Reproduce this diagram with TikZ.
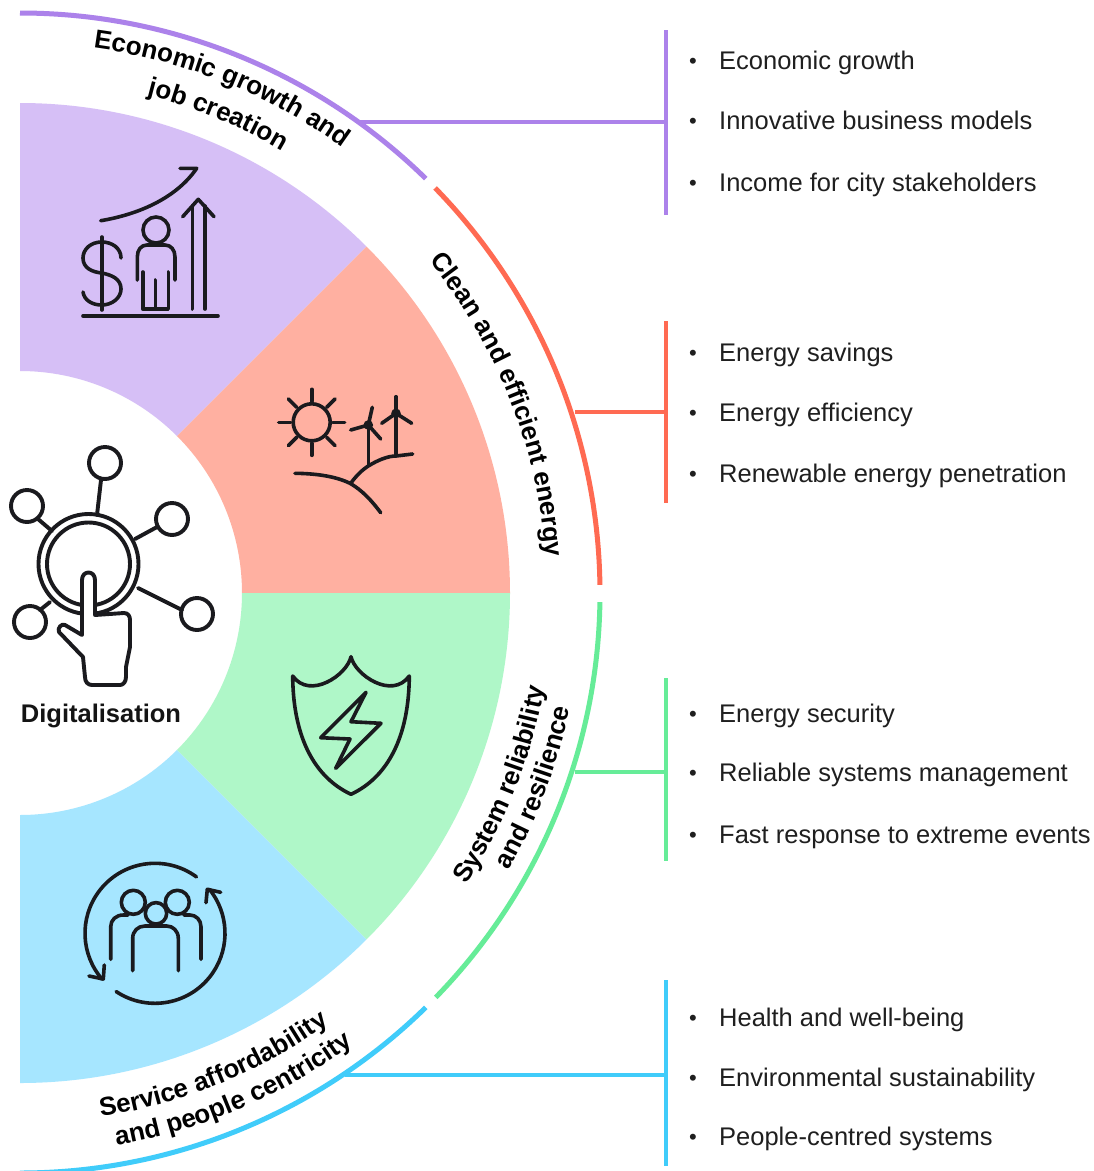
\documentclass[tikz,border=0pt]{standalone}
\usepackage{fontspec}
\setmainfont{Liberation Sans}
\usetikzlibrary{decorations.text}
\definecolor{lpur}{HTML}{AC82EA}\definecolor{fpur}{HTML}{D6BFF6}
\definecolor{lred}{HTML}{FF6A52}\definecolor{fred}{HTML}{FFB0A1}
\definecolor{lgrn}{HTML}{66EC98}\definecolor{fgrn}{HTML}{AFF7C8}
\definecolor{lblu}{HTML}{40CCFA}\definecolor{fblu}{HTML}{A6E6FF}
\definecolor{ink}{HTML}{1A1A1E}
\tikzset{
  rim/.style={line width=5pt},
  conn/.style={line width=4.6pt},
  icon/.style={draw=ink,line width=3.6pt,line cap=round,line join=round},
  itemtext/.style={anchor=base west,inner sep=0pt,font=\fontsize{25.5}{28}\selectfont,text=black!88},
  bulletmark/.style={anchor=base,inner sep=0pt,font=\fontsize{22}{24}\selectfont,text=black!88},
}
\newcommand\lblfont{\bfseries\fontsize{26}{28}\selectfont}
\newcommand\wedgepart[3]{\fill[#1] (#2:490) arc[start angle=#2,end angle=#3,radius=490] -- (#3:222) arc[start angle=#3,end angle=#2,radius=222] -- cycle;}
\newcommand\curved[4]{\path[decorate,decoration={text along path,text align=center,text={|\lblfont|#4}}] (#2:#1) arc[start angle=#2,end angle=#3,radius=#1];}
\newcommand\listitem[3]{\node[bulletmark] (b#1) at (693,#2+8) {•};\node[itemtext] (t#1) at (719,#2+9) {#3};}
\begin{document}
\begin{tikzpicture}[x=1pt,y=-1pt]
\useasboundingbox (0,0) rectangle (1094,1171);
\clip (0,0) rectangle (1094,1171);
\fill[white] (0,0) rectangle (1094,1171);
\begin{scope}[shift={(20,593)}]
\wedgepart{fpur}{-90}{-45}
\wedgepart{fred}{-45}{0}
\wedgepart{fgrn}{0}{45}
\wedgepart{fblu}{45}{90}
\draw[rim,lpur] (-90:580) arc[start angle=-90,end angle=-45.6,radius=580];
\draw[rim,lred] (-44.3:580) arc[start angle=-44.3,end angle=-0.8,radius=580];
\draw[rim,lgrn] (0.9:580) arc[start angle=0.9,end angle=44.2,radius=580];
\draw[rim,lblu] (45.6:580) arc[start angle=45.6,end angle=90,radius=580];
\curved{550}{-88.2}{-48.2}{Economic growth and}
\curved{514}{-87.5}{-47.5}{job creation}
\curved{527}{-44}{1}{Clean and efficient energy}
\curved{533}{41.7}{1.7}{System reliability}
\curved{562}{40.7}{0.7}{and resilience}
\curved{530}{87.8}{47.8}{Service affordability}
\curved{561}{86.8}{46.8}{and people centricity}
\end{scope}
% connectors
\coordinate (pa) at (360,122);\coordinate (pb) at (666,122);\coordinate (pt) at (666,30);\coordinate (pe) at (666,215);
\coordinate (ra) at (575,412);\coordinate (rb) at (666,412);\coordinate (rt) at (666,321);\coordinate (re) at (666,503);
\coordinate (ga) at (575,772);\coordinate (gb) at (666,772);\coordinate (gt) at (666,678);\coordinate (ge) at (666,861);
\coordinate (ba) at (345,1075);\coordinate (bb) at (666,1075);\coordinate (bt) at (666,980);\coordinate (be) at (666,1166);
\draw[conn,lpur] (pa)--(pb) (pt)--(pe);
\draw[conn,lred] (ra)--(rb) (rt)--(re);
\draw[conn,lgrn] (ga)--(gb) (gt)--(ge);
\draw[conn,lblu] (ba)--(bb) (bt)--(be);
% lists
\listitem{a}{60}{Economic growth}
\listitem{b}{120}{Innovative business models}
\listitem{c}{182}{Income for city stakeholders}
\listitem{d}{352}{Energy savings}
\listitem{e}{412}{Energy efficiency}
\listitem{f}{473}{Renewable energy penetration}
\listitem{g}{713}{Energy security}
\listitem{h}{772}{Reliable systems management}
\listitem{i}{834}{Fast response to extreme events}
\listitem{j}{1017}{Health and well-being}
\listitem{k}{1077}{Environmental sustainability}
\listitem{l}{1136}{People-centred systems}
% digitalisation icon
\begin{scope}[icon,line width=3.9pt]
\draw (88.5,564) circle[radius=50];
\draw (88.5,564) circle[radius=41.5];
\draw (105,463) circle[radius=16];
\draw (27,506) circle[radius=16];
\draw (172,519) circle[radius=16];
\draw (197,614) circle[radius=16];
\draw (30,622) circle[radius=16];
\draw (101,480)--(97,515);
\draw (38,519)--(52,531);
\draw (157,527)--(135,539);
\draw (138,588)--(182,610);
\draw (50,602)--(40,610);
\draw[fill=white] (82,635)--(82,580) .. controls (82,570) and (95,570) .. (95,580)--(95,615)--(124,613) .. controls (128,613) and (130,616) .. (130,620)--(130,647)--(126,667)--(126,677) .. controls (126,682) and (123,685) .. (120,685)--(92,685) .. controls (88,685) and (85,682) .. (85,677)--(83,657)--(59,632) .. controls (57,628) and (62,623) .. (65,625)--cycle;
\end{scope}
\node[anchor=base,inner sep=0pt,font=\bfseries\fontsize{25.5}{28}\selectfont,text=black!92] (dig) at (101,722) {Digitalisation};
% economy icon
\begin{scope}[icon]
\draw (83,316)--(218,316);
\draw (101.7,237)--(101.7,310);
\draw (121,258) .. controls (121,248) and (112,242) .. (101.7,242) .. controls (91,242) and (83,249) .. (83,258) .. controls (83,268) and (92,272) .. (101.7,273) .. controls (112,275) and (121,279) .. (121,289) .. controls (121,298) and (112,305) .. (101.7,305) .. controls (92,305) and (84,300) .. (83,292);
\draw (100.7,220.7) .. controls (135,215) and (175,200) .. (196.7,168.3)--(180,168.3);
\draw (156,230) circle[radius=13];
\draw (137.3,280)--(137.3,257) .. controls (137.3,250) and (141,245) .. (147,245)--(165,245) .. controls (171,245) and (175,250) .. (175,257)--(175,280);
\draw (142.7,272)--(142.7,309)--(168.3,309)--(168.3,272);
\draw (155.3,280)--(155.3,309);
\draw (182.7,216.7)--(198.3,199.3)--(214,216.7);
\draw (192.3,309)--(192.3,206);
\draw (205,309)--(205,206);
\end{scope}
% energy icon
\begin{scope}[icon]
\draw (311.7,422.3) circle[radius=18.5];
\foreach \a in {0,45,...,315}{\draw (311.7,422.3) ++(\a:21) -- ++(\a:12);}
\draw (368.3,425)--(368.3,465);
\draw (368.3,425)--(372.3,407.3);
\draw (368.3,425)--(350.7,430);
\draw (368.3,425)--(380.7,439);
\fill[ink] (368.3,425) circle[radius=4.8];
\draw (396,413.3)--(396,455);
\draw (396,413.3)--(396,396.7);
\draw (396,413.3)--(381.7,423.3);
\draw (396,413.3)--(411.7,423.3);
\fill[ink] (396,413.3) circle[radius=4.8];
\draw (295,473.3) .. controls (315,473.5) and (335,476) .. (350,483.3) .. controls (362,490) and (372,501) .. (380.7,512.7);
\draw (350.7,483.3) .. controls (356,476) and (362,470) .. (368.3,466) .. controls (378,460) and (388,456) .. (396,456) -- (412.7,454);
\end{scope}
% shield icon
\begin{scope}[icon]
\draw (351,656.7) .. controls (347,675) and (310,700) .. (292.7,676) .. controls (293,730) and (310,775) .. (351,794.3) .. controls (392,775) and (409,730) .. (409.3,676) .. controls (392,700) and (355,675) .. (351,656.7) -- cycle;
\draw (366,692.3)--(351,721.7)--(381,723.3)--(335.7,768.3)--(350,739)--(320.7,737.7)--cycle;
\end{scope}
% people icon
\begin{scope}[icon]
\draw (155,933.3) ++(-53.7:70) arc[start angle=-53.7,end angle=-221,radius=70];
\draw (155,933.3) ++(123.7:70) arc[start angle=123.7,end angle=-39,radius=70];
\draw (89,976)--(103.3,979)--(104.3,965);
\draw (220.7,892.3)--(207.3,889.3)--(206,902.7);
\draw (156,913.3) circle[radius=10.7];
\draw (133.3,902.3) circle[radius=12];
\draw (177.3,902.3) circle[radius=12];
\draw (132.7,970.7)--(132.7,938.3) .. controls (132.7,931) and (138,926) .. (145,926)--(166.7,926) .. controls (173,926) and (178.3,931) .. (178.3,938.3)--(178.3,970.7);
\draw (110.7,959.3)--(110.7,926.7) .. controls (110.7,920) and (116,915) .. (123.3,915)--(128,915);
\draw (201,959.3)--(201,926.7) .. controls (201,920) and (196,915) .. (190,915)--(184,915);
\end{scope}
\end{tikzpicture}
\end{document}
